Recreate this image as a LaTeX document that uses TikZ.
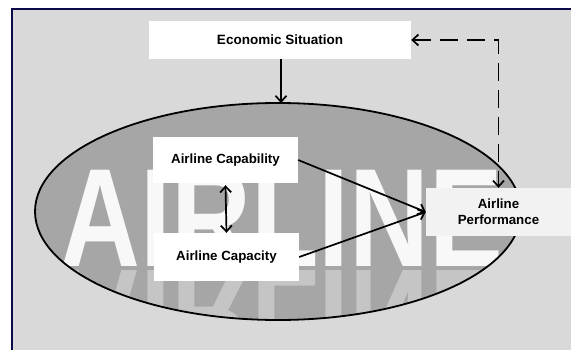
\documentclass[tikz,border=0pt]{standalone}
\usepackage{fontspec}
\setmainfont{Liberation Sans}
\usetikzlibrary{arrows.meta,shapes.geometric}
\definecolor{framenavy}{HTML}{0B0B4A}
\definecolor{panelgray}{HTML}{D9D9D9}
\definecolor{ovalgray}{HTML}{A6A6A6}
\definecolor{perfgray}{HTML}{F2F2F2}
\begin{document}
\begin{tikzpicture}[x=1pt,y=-1pt,
  box/.style={fill=white, inner sep=0pt, align=center,
    font=\fontsize{13.3}{16}\selectfont\bfseries},
  bigword/.style={anchor=base, inner sep=0pt, xscale=0.79, text=white,
    font=\fontsize{140}{140}\selectfont\bfseries},
  link/.style={line width=1.7pt,
    -{Straight Barb[length=6pt,width=11pt,line width=1.7pt]}},
  twoway/.style={line width=1.7pt,
    {Straight Barb[length=6pt,width=11pt,line width=1.7pt]}-{Straight Barb[length=6pt,width=11pt,line width=1.7pt]}},
  feedback/.style={twoway, dash pattern=on 18pt off 9pt},
  ]
\useasboundingbox (0,0) rectangle (571,350);
\clip (0,0) rectangle (571,350);
\fill[white] (0,0) rectangle (571,350);

% panel with its navy frame (runs off the right and bottom edges)
\draw[framenavy, line width=2pt, fill=panelgray] (12,9.5) rectangle (600,380);

% grey oval holding the airline word as a backdrop
\node[ellipse, fill=ovalgray, inner sep=0pt,
      minimum width=486pt, minimum height=217pt] (oval) at (278,211.5) {};
\begin{scope}
  \clip (278,211.5) ellipse [x radius=243, y radius=108.5];
  \node[bigword, opacity=0.92] (word) at (282,267) {AIRLINE};
  \node[bigword, yscale=-1, opacity=0.35] (mirror) at (282,271) {AIRLINE};
\end{scope}
\draw[line width=1.8pt] (278,211.5) ellipse [x radius=243, y radius=108.5];

% boxes
\node[box, minimum width=262pt, minimum height=38pt,
      font=\fontsize{13.5}{16}\selectfont\bfseries] (econ) at (280,40) {Economic Situation};
\node[box, minimum width=145pt, minimum height=46pt] (cap) at (225.5,160) {Airline Capability};
\node[box, minimum width=145pt, minimum height=48pt] (cpy) at (226.5,257) {Airline Capacity};
\node[box, fill=perfgray, minimum width=145pt, minimum height=48pt] (perf) at (498.5,212)
  {Airline\\Performance};

% connectors
\draw[link] (econ.south -| 281,0) -- (281,103);
\draw[twoway] ([yshift=-2pt]cap.south) -- ([yshift=0pt]cpy.north);
\draw[link] (cap.east) -- (perf.west);
\draw[link] (cpy.east) -- (perf.west);
\draw[feedback] (econ.east) -| (perf.north);
\end{tikzpicture}
\end{document}
